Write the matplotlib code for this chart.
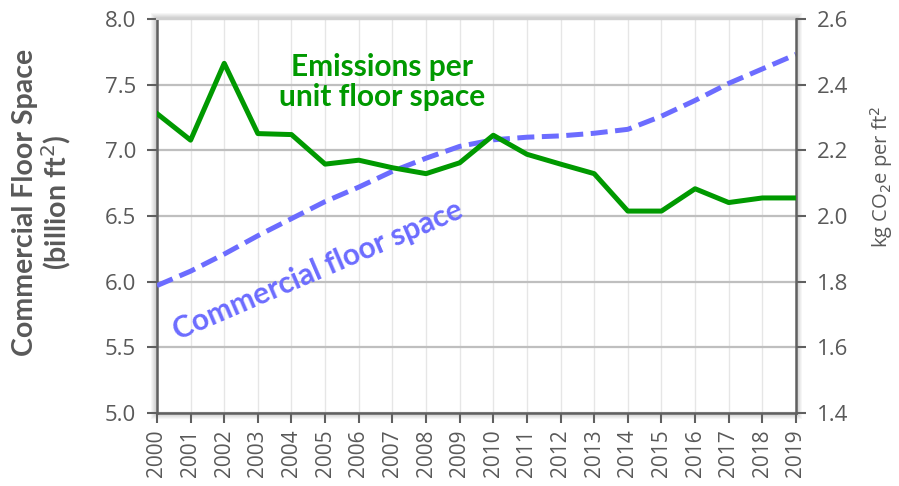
import matplotlib
matplotlib.use("Agg")
import matplotlib.pyplot as plt
from matplotlib.patches import Rectangle
import numpy as np

years = list(range(2000, 2020))
floor_space = [5.97, 6.08, 6.21, 6.35, 6.48, 6.61, 6.72, 6.84, 6.94, 7.03,
               7.08, 7.10, 7.11, 7.13, 7.16, 7.26, 7.38, 7.51, 7.62, 7.73]
emissions = [2.312, 2.231, 2.465, 2.251, 2.248, 2.158, 2.170, 2.147, 2.129, 2.162,
             2.246, 2.188, 2.158, 2.129, 2.015, 2.015, 2.083, 2.041, 2.055, 2.055]
left_ticks = [5.0, 5.5, 6.0, 6.5, 7.0, 7.5, 8.0]
right_ticks = [1.4, 1.6, 1.8, 2.0, 2.2, 2.4, 2.6]

GREY = "#595959"
GREEN = "#009900"
BLUE = "#6c6cff"
FONT = ["Open Sans", "DejaVu Sans"]
TITLEFONT = ["Lato", "DejaVu Sans"]
plt.rcParams['font.family'] = FONT

W, H = 899, 486
fig = plt.figure(figsize=(W / 100, H / 100), dpi=100)
pos = [0.1746, 0.1502, 0.7108, 0.8107]
ax = fig.add_axes(pos)
ax2 = ax.twinx()

# soft shadow around the plot area
for i in range(1, 7):
    dx, dy = i / W, i / H
    fig.patches.append(Rectangle((pos[0] - dx, pos[1] - dy), pos[2] + 2 * dx, pos[3] + 2 * dy,
                                 transform=fig.transFigure, facecolor="#000000",
                                 alpha=0.035, edgecolor="none", zorder=-5))

ax.set_xlim(2000, 2019)
ax.set_ylim(5.0, 8.0)
ax2.set_ylim(1.4, 2.6)

# grid
for y in left_ticks:
    ax.axhline(y, color="#bfbfbf", lw=1.6, zorder=1)
for x in years:
    ax.axvline(x, color="#e6e6e6", lw=1.0, zorder=0.5)

ax.plot(years, floor_space, color=BLUE, lw=3.6, dashes=(3.4, 1.5), zorder=3,
        dash_capstyle='butt')
# emissions are on the right axis; draw on top of the dashed line
ax2.plot(years, emissions, color=GREEN, lw=3.6, zorder=4)
ax2.set_zorder(ax.get_zorder() + 1)
ax2.patch.set_visible(False)

ax.set_yticks(left_ticks)
ax.set_yticklabels([f"{v:.1f}" for v in left_ticks], fontsize=16, color=GREY)
ax2.set_yticks(right_ticks)
ax2.set_yticklabels([f"{v:.1f}" for v in right_ticks], fontsize=16, color=GREY)
ax.set_xticks(years)
ax.set_xticklabels([str(y) for y in years], rotation=90, fontsize=15, color=GREY)

for a in (ax, ax2):
    for s in ("left", "right", "bottom", "top"):
        a.spines[s].set_visible(False)
ax.spines["left"].set_visible(True)
ax.spines["left"].set_color("#606060")
ax.spines["left"].set_linewidth(1.8)
ax2.spines["right"].set_visible(True)
ax2.spines["right"].set_color("#606060")
ax2.spines["right"].set_linewidth(1.8)
ax.spines["bottom"].set_visible(True)
ax.spines["bottom"].set_color("#606060")
ax.spines["bottom"].set_linewidth(1.8)
ax.spines["top"].set_visible(True)
ax.spines["top"].set_color("#d0d0d0")
ax.spines["top"].set_linewidth(1.5)

ax.tick_params(axis="y", direction="out", length=7, width=1.5, color="#606060", pad=8)
ax2.tick_params(axis="y", direction="out", length=7, width=1.5, color="#606060", pad=8)
ax.tick_params(axis="x", direction="out", length=7, width=1.5, color="#606060", pad=5)

ax.set_ylabel("Commercial Floor Space\n(billion ft$^2$)", fontsize=20.5, color=GREY,
              fontweight="bold", linespacing=1.05, family=TITLEFONT)
ax.yaxis.set_label_coords(-0.131, 0.535)
ax2.set_ylabel("kg CO$_2$e per ft$^2$", fontsize=14.5, color=GREY)
ax2.yaxis.set_label_coords(1.113, 0.60)

ax.text(2006.7, 7.52, "Emissions per\nunit floor space", color=GREEN, fontsize=21.5,
        fontweight="bold", ha="center", va="center", linespacing=1.1, zorder=5,
        family=TITLEFONT)
ax.text(2004.8, 6.09, "Commercial floor space", color=BLUE, fontsize=21.5,
        fontweight="bold", ha="center", va="center", rotation=23.3,
        rotation_mode="anchor", zorder=5, family=TITLEFONT)

fig.savefig("out.png", dpi=100)
